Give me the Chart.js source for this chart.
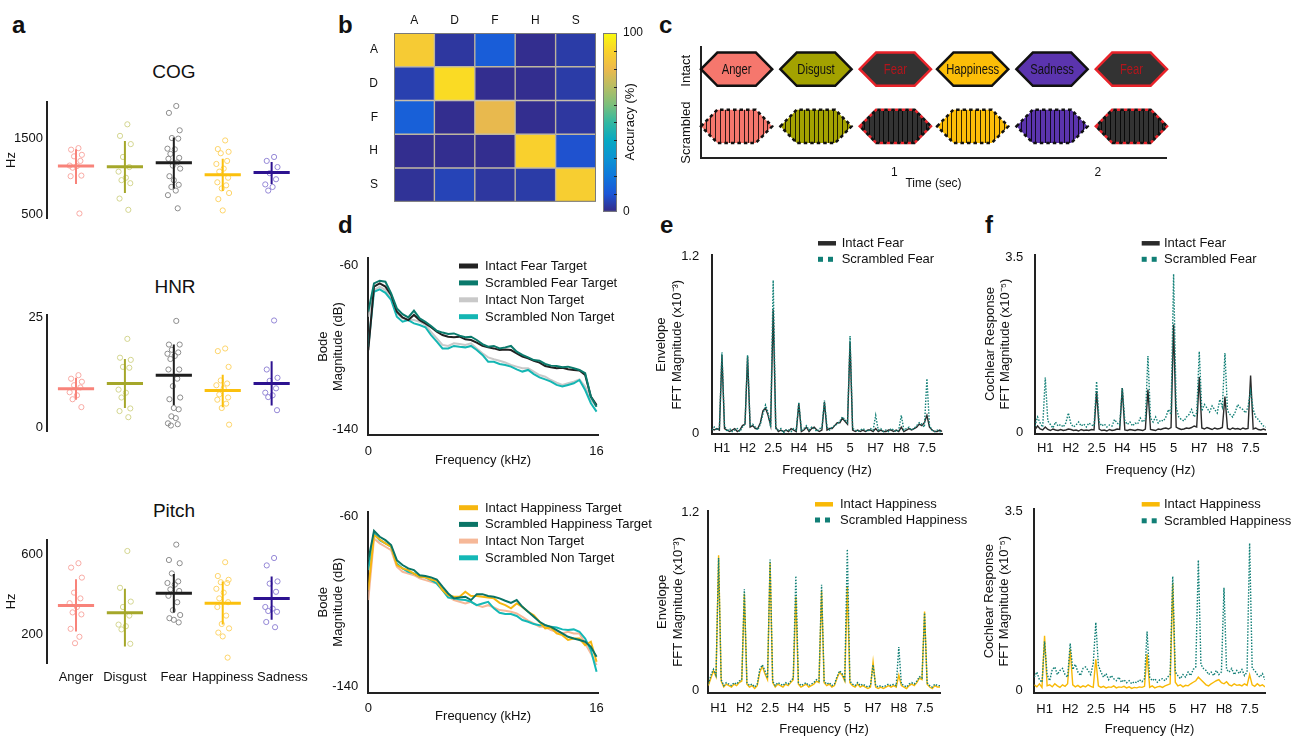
<!DOCTYPE html>
<html>
<head>
<meta charset="utf-8">
<script src="https://cdn.jsdelivr.net/npm/chart.js@4.4.0/dist/chart.umd.min.js"></script>
<style>
  html, body { margin: 0; padding: 0; background: #fff; }
  #fig { position: relative; width: 1304px; height: 737px; overflow: hidden; font-family: 'Liberation Sans', Arial, sans-serif; color: #111; }
  #fig canvas { position: absolute; }
  .lbl { position: absolute; font-weight: bold; font-size: 24px; line-height: 24px; }
  .ttl { position: absolute; width: 100px; text-align: center; font-size: 19px; line-height: 19px; }
</style>
</head>
<body>
<div id="fig">
  <div class="lbl" style="left:12px;top:13px">a</div>
  <div class="lbl" style="left:338px;top:13px">b</div>
  <div class="lbl" style="left:659px;top:13px">c</div>
  <div class="lbl" style="left:338px;top:213px">d</div>
  <div class="lbl" style="left:660px;top:213px">e</div>
  <div class="lbl" style="left:985px;top:213px">f</div>
  <div class="ttl" style="left:124px;top:62px">COG</div>
  <div class="ttl" style="left:125px;top:277px">HNR</div>
  <div class="ttl" style="left:124px;top:501px">Pitch</div>
</div>
<script>
// ---------- panel a: acoustic features per emotion ----------
const emotions = ['Anger', 'Disgust', 'Fear', 'Happiness', 'Sadness'];
const crossColors = ['#f8837a', '#a5a72a', '#1e1e1e', '#fbc00d', '#2d1290'];
const dotColors = ['#f8aaa4', '#d3d58f', '#8c8c8c', '#fdd46a', '#9487d6'];

const cogMean = [1135, 1126, 1179, 1022, 1050];
const cogLow = [900, 781, 841, 809, 901];
const cogHigh = [1355, 1464, 1512, 1231, 1190];
const cogPoints = [
  [1371, 1351, 1283, 1263, 1203, 1142, 1135, 1114, 1010, 1002, 512],
  [1684, 1532, 1424, 1255, 1122, 1062, 982, 950, 910, 708, 560],
  [1925, 1834, 1605, 1504, 1496, 1364, 1355, 1295, 1243, 1231, 1183, 1142, 1102, 1002, 950, 889, 861, 813, 753, 580],
  [1472, 1359, 1323, 1304, 1203, 1163, 1102, 1062, 982, 922, 882, 841, 781, 701, 552],
  [1255, 1203, 1122, 1042, 962, 894, 861, 813]
];

const hnrMean = [8.8, 10.0, 11.9, 8.4, 10.0];
const hnrLow = [6.3, 4.4, 5.1, 4.6, 5.0];
const hnrHigh = [11.3, 15.6, 18.9, 12.0, 15.1];
const hnrPoints = [
  [11.9, 11.1, 10.4, 9.6, 9.1, 8.0, 7.3, 6.4, 4.6],
  [20.2, 15.9, 15.4, 13.8, 13.6, 8.6, 7.9, 6.8, 4.3, 3.7, 2.3],
  [24.3, 18.9, 18.9, 17.7, 17.1, 16.8, 16.3, 15.6, 13.2, 13.2, 11.1, 9.4, 6.8, 6.4, 4.4, 4.1, 2.5, 2.1, 0.9, 0.7, 0.4],
  [18.0, 17.4, 13.8, 10.7, 10.0, 9.6, 8.9, 7.5, 6.8, 6.3, 5.4, 4.4, 0.6],
  [24.4, 13.2, 11.3, 10.6, 8.9, 7.9, 7.3, 6.9, 3.9]
];

const pitchMean = [347, 310, 408, 358, 382];
const pitchLow = [216, 142, 312, 251, 275];
const pitchHigh = [478, 430, 504, 467, 491];
const pitchPoints = [
  [558, 536, 486, 411, 382, 358, 339, 312, 302, 230, 190, 158],
  [619, 435, 366, 339, 296, 251, 243, 227, 155],
  [651, 574, 558, 507, 467, 459, 451, 427, 419, 395, 363, 323, 299, 283, 275, 262],
  [563, 494, 475, 463, 459, 430, 411, 382, 363, 339, 296, 254, 232, 211, 192, 86],
  [584, 547, 467, 456, 415, 339, 331, 319, 315, 264, 238]
];

// ---------- panel b: confusion matrix (%) ----------
const matrixLabels = ['A', 'D', 'F', 'H', 'S'];
const accuracy = [
  [87, 3, 12, 1, 4],
  [5, 92, 1, 1, 4],
  [13, 1, 79, 1, 3],
  [1, 1, 1, 89, 9],
  [2, 6, 3, 4, 88]
];

// ---------- panel c: stimulus sequence ----------
const stimLabels = ['Anger', 'Disgust', 'Fear', 'Happiness', 'Sadness', 'Fear'];
const stimColors = ['#f6776d', '#a3a200', '#333333', '#fcbe08', '#5b34ae', '#333333'];
const stimOnsets = [0.05, 0.44, 0.83, 1.21, 1.60, 1.99];
const stimDuration = 0.35;
const rowNames = ['Intact', 'Scrambled'];

// ---------- panel d: Bode magnitude (dB) ----------
const dFreqKHz = [0, 0.4, 0.8, 1.2, 1.6, 2, 2.4, 2.8, 3.2, 3.6, 4, 4.4, 4.8, 5.2, 5.6, 6, 6.4, 6.8, 7.2, 7.6,
  8, 8.4, 8.8, 9.2, 9.6, 10, 10.4, 10.8, 11.2, 11.6, 12, 12.4, 12.8, 13.2, 13.6, 14, 14.4, 14.8, 15.2, 15.6, 16];
const bodeFearIntact = [-101.4, -70.5, -68.9, -70.5, -74.6, -82.7, -85.5, -86.8, -84.3, -86.8, -88.4, -90.3, -92.5, -94.1,
  -94.9, -95.2, -94.9, -96.2, -96.5, -97.8, -99.4, -100.1, -100.6, -101.4, -101.1, -101.4, -103.0, -104.6, -105.4, -106.6,
  -107.5, -109.2, -109.8, -110.3, -110.0, -110.8, -111.1, -111.4, -113.6, -124.1, -128.2];
const bodeFearScrambled = [-82.7, -68.9, -67.6, -68.1, -73.8, -81.1, -83.9, -85.5, -82.2, -86.0, -87.6, -89.7, -92.0, -92.9,
  -93.6, -93.3, -94.4, -95.2, -94.9, -96.5, -98.5, -99.8, -99.4, -100.6, -100.1, -99.4, -102.2, -103.8, -105.0, -106.3,
  -106.6, -108.2, -109.0, -109.2, -109.8, -109.5, -110.3, -111.1, -112.7, -124.1, -129.0];
const bodeFearNonIntact = [-85.2, -72.2, -70.5, -72.2, -76.2, -83.5, -86.0, -86.5, -86.8, -87.6, -89.2, -92.5, -95.7, -98.9,
  -99.4, -98.1, -98.5, -98.9, -98.1, -100.6, -103.0, -105.0, -105.9, -106.6, -107.5, -108.7, -109.5, -110.3, -110.3, -111.9,
  -113.6, -114.4, -116.0, -117.3, -118.4, -117.6, -116.8, -115.7, -119.2, -125.7, -129.0];
const bodeFearNonScrambled = [-99.8, -73.0, -71.8, -73.5, -77.0, -85.2, -87.6, -86.8, -88.4, -89.2, -90.3, -94.1, -97.3, -100.6,
  -100.6, -99.4, -99.8, -100.1, -99.4, -101.4, -103.8, -107.1, -107.1, -108.2, -108.7, -109.5, -110.8, -111.9, -111.1, -113.1,
  -114.7, -115.7, -116.8, -118.4, -119.2, -118.4, -117.6, -116.0, -120.9, -127.3, -131.4];

const bodeHappyIntact = [-94.5, -68.6, -70.7, -72.5, -74.1, -82.7, -84.3, -85.1, -86.7, -88.2, -88.5, -89.5, -90.1, -94.5,
  -96.9, -97.6, -97.6, -95.3, -97.3, -97.3, -97.6, -98.0, -98.4, -100.5, -101.6, -103.1, -100.8, -102.4, -104.7, -106.3,
  -109.4, -112.5, -112.1, -114.9, -115.7, -118.0, -117.3, -117.3, -120.4, -118.8, -128.2];
const bodeHappyScrambled = [-80.4, -66.6, -69.4, -71.0, -73.3, -80.4, -82.7, -84.3, -85.1, -87.5, -87.9, -88.5, -89.5, -92.9,
  -96.1, -98.4, -98.0, -97.6, -99.2, -96.4, -96.4, -97.3, -97.6, -98.4, -99.5, -100.5, -99.2, -102.4, -104.7, -107.1,
  -109.4, -111.0, -111.8, -113.3, -114.9, -116.5, -117.3, -118.0, -118.8, -121.2, -125.9];
const bodeHappyNonIntact = [-99.2, -70.2, -72.5, -74.1, -75.7, -83.5, -85.9, -86.7, -87.5, -89.0, -89.8, -90.6, -91.4, -94.5,
  -97.6, -99.2, -100.0, -100.8, -100.0, -101.6, -102.4, -101.6, -102.7, -103.9, -104.2, -104.7, -105.5, -107.1, -108.9, -110.2,
  -111.8, -111.8, -113.3, -114.1, -114.9, -114.1, -114.9, -114.9, -119.6, -124.3, -129.8];
const bodeHappyNonScrambled = [-85.1, -67.8, -71.0, -72.5, -74.1, -82.0, -84.3, -85.9, -86.7, -88.2, -88.5, -89.8, -91.4, -94.5,
  -98.0, -98.4, -98.9, -99.2, -100.0, -101.6, -100.8, -100.0, -103.1, -105.2, -105.8, -105.8, -106.7, -108.6, -109.4, -110.5,
  -111.0, -111.0, -111.8, -112.1, -113.0, -113.3, -113.0, -114.1, -117.3, -122.7, -132.9];

// ---------- panels e, f: FFT spectra, bins of 1/12 Hz from 0.5 to 8 Hz ----------
const fftFreqHz = Array.from({length: 91}, (_, i) => (i + 6) / 12);
const harmonicHz = [10 / 12, 20 / 12, 2.5, 40 / 12, 50 / 12, 5, 70 / 12, 80 / 12, 7.5];
const harmonicLabels = ['H1', 'H2', '2.5', 'H4', 'H5', '5', 'H7', 'H8', '7.5'];

const envFearIntact = [
  0.03, 0.02, 0.03, 0.02, 0.53, 0.03, 0.02, 0.01, 0.02, 0.03,
  0.01, 0.02, 0.05, 0.06, 0.52, 0.04, 0.05, 0.03, 0.03, 0.07,
  0.15, 0.17, 0.12, 0.05, 0.84, 0.04, 0.01, 0.02, 0.01, 0.02,
  0.01, 0.03, 0.02, 0.01, 0.20, 0.01, 0.02, 0.04, 0.01, 0.03,
  0.04, 0.02, 0.01, 0.02, 0.21, 0.02, 0.03, 0.03, 0.05, 0.07,
  0.07, 0.10, 0.08, 0.06, 0.62, 0.02, 0.01, 0.02, 0.01, 0.02,
  0.01, 0.02, 0.02, 0.01, 0.03, 0.01, 0.02, 0.01, 0.01, 0.02,
  0.02, 0.01, 0.02, 0.01, 0.04, 0.01, 0.02, 0.03, 0.02, 0.03,
  0.04, 0.06, 0.05, 0.07, 0.12, 0.04, 0.02, 0.01, 0.01, 0.02,
  0.01];
const envFearScrambled = [
  0.02, 0.04, 0.02, 0.03, 0.55, 0.05, 0.01, 0.03, 0.01, 0.02,
  0.03, 0.01, 0.04, 0.06, 0.53, 0.05, 0.06, 0.04, 0.02, 0.06,
  0.13, 0.19, 0.14, 0.04, 1.04, 0.03, 0.02, 0.03, 0.00, 0.02,
  0.02, 0.01, 0.03, 0.02, 0.21, 0.02, 0.03, 0.05, 0.02, 0.04,
  0.03, 0.01, 0.03, 0.03, 0.22, 0.04, 0.02, 0.04, 0.05, 0.06,
  0.08, 0.11, 0.09, 0.07, 0.66, 0.03, 0.02, 0.01, 0.02, 0.03,
  0.02, 0.01, 0.03, 0.02, 0.12, 0.02, 0.03, 0.01, 0.02, 0.01,
  0.03, 0.02, 0.01, 0.02, 0.12, 0.02, 0.03, 0.04, 0.02, 0.03,
  0.05, 0.07, 0.06, 0.04, 0.37, 0.05, 0.02, 0.01, 0.02, 0.01,
  0.01];
const envHappyIntact = [
  0.03, 0.08, 0.13, 0.09, 0.91, 0.06, 0.02, 0.04, 0.03, 0.02,
  0.04, 0.03, 0.05, 0.06, 0.65, 0.04, 0.02, 0.03, 0.01, 0.03,
  0.12, 0.16, 0.11, 0.07, 0.86, 0.05, 0.02, 0.04, 0.03, 0.02,
  0.04, 0.03, 0.05, 0.07, 0.63, 0.04, 0.02, 0.03, 0.04, 0.02,
  0.03, 0.04, 0.06, 0.05, 0.67, 0.05, 0.03, 0.04, 0.02, 0.03,
  0.08, 0.12, 0.10, 0.06, 0.70, 0.05, 0.03, 0.02, 0.04, 0.02,
  0.03, 0.02, 0.01, 0.02, 0.19, 0.02, 0.01, 0.02, 0.01, 0.02,
  0.03, 0.02, 0.03, 0.02, 0.10, 0.03, 0.02, 0.01, 0.03, 0.04,
  0.03, 0.05, 0.08, 0.07, 0.53, 0.04, 0.02, 0.01, 0.03, 0.02,
  0.02];
const envHappyScrambled = [
  0.04, 0.10, 0.14, 0.10, 0.89, 0.07, 0.03, 0.05, 0.04, 0.03,
  0.05, 0.04, 0.06, 0.07, 0.68, 0.05, 0.03, 0.04, 0.02, 0.04,
  0.14, 0.17, 0.13, 0.08, 0.88, 0.06, 0.03, 0.05, 0.04, 0.03,
  0.05, 0.04, 0.06, 0.08, 0.77, 0.05, 0.03, 0.04, 0.05, 0.03,
  0.04, 0.05, 0.07, 0.06, 0.71, 0.06, 0.04, 0.05, 0.03, 0.04,
  0.09, 0.13, 0.11, 0.07, 0.95, 0.06, 0.04, 0.03, 0.05, 0.03,
  0.04, 0.03, 0.02, 0.03, 0.17, 0.03, 0.02, 0.03, 0.02, 0.03,
  0.04, 0.03, 0.04, 0.03, 0.29, 0.04, 0.03, 0.02, 0.04, 0.05,
  0.04, 0.06, 0.09, 0.08, 0.52, 0.05, 0.03, 0.02, 0.04, 0.03,
  0.03];

const cochFearIntact = [
  0.05, 0.12, 0.06, 0.04, 0.10, 0.05, 0.03, 0.06, 0.04, 0.03,
  0.05, 0.03, 0.04, 0.06, 0.05, 0.03, 0.04, 0.02, 0.05, 0.03,
  0.04, 0.03, 0.05, 0.04, 0.82, 0.06, 0.03, 0.04, 0.02, 0.05,
  0.03, 0.04, 0.06, 0.05, 0.88, 0.04, 0.03, 0.05, 0.04, 0.03,
  0.05, 0.04, 0.03, 0.06, 0.85, 0.05, 0.04, 0.03, 0.06, 0.05,
  0.07, 0.08, 0.06, 0.09, 2.15, 0.10, 0.07, 0.05, 0.06, 0.08,
  0.07, 0.09, 0.12, 0.10, 1.10, 0.08, 0.06, 0.09, 0.07, 0.05,
  0.08, 0.06, 0.07, 0.09, 0.71, 0.07, 0.05, 0.08, 0.06, 0.07,
  0.05, 0.08, 0.06, 0.07, 1.13, 0.06, 0.08, 0.05, 0.04, 0.06,
  0.04];
const cochFearScrambled = [
  0.12, 0.30, 0.18, 0.10, 1.09, 0.22, 0.15, 0.08, 0.20, 0.12,
  0.15, 0.10, 0.18, 0.38, 0.16, 0.10, 0.14, 0.20, 0.12, 0.16,
  0.10, 0.18, 0.14, 0.12, 1.01, 0.20, 0.12, 0.16, 0.10, 0.14,
  0.12, 0.25, 0.18, 0.14, 0.88, 0.22, 0.15, 0.20, 0.12, 0.18,
  0.16, 0.28, 0.20, 0.25, 1.52, 0.28, 0.20, 0.30, 0.18, 0.24,
  0.22, 0.30, 0.45, 0.35, 3.16, 0.50, 0.30, 0.25, 0.22, 0.30,
  0.35, 0.45, 0.30, 0.38, 1.61, 0.42, 0.55, 0.48, 0.40, 0.52,
  0.45, 0.38, 0.65, 0.50, 1.58, 0.42, 0.35, 0.30, 0.40, 0.55,
  0.48, 0.45, 0.38, 0.50, 0.82, 0.45, 0.30, 0.25, 0.18, 0.12,
  0.10];
const cochHappyIntact = [
  0.10, 0.06, 0.12, 0.05, 1.06, 0.08, 0.10, 0.06, 0.12, 0.08,
  0.05, 0.10, 0.07, 0.12, 0.80, 0.10, 0.06, 0.09, 0.05, 0.08,
  0.06, 0.10, 0.07, 0.05, 0.60, 0.08, 0.05, 0.07, 0.04, 0.06,
  0.05, 0.08, 0.04, 0.06, 0.05, 0.07, 0.04, 0.06, 0.03, 0.05,
  0.04, 0.06, 0.05, 0.07, 0.70, 0.05, 0.08, 0.04, 0.06, 0.07,
  0.05, 0.08, 0.10, 0.12, 2.09, 0.15, 0.08, 0.10, 0.06, 0.09,
  0.08, 0.12, 0.15, 0.18, 0.25, 0.20, 0.15, 0.10, 0.08, 0.12,
  0.15, 0.18, 0.20, 0.14, 0.12, 0.16, 0.10, 0.08, 0.12, 0.09,
  0.10, 0.08, 0.12, 0.09, 0.30, 0.10, 0.07, 0.12, 0.08, 0.10,
  0.06];
const cochHappyScrambled = [
  0.25, 0.35, 0.20, 0.15, 0.95, 0.30, 0.18, 0.40, 0.45, 0.30,
  0.38, 0.42, 0.30, 0.25, 0.91, 0.40, 0.50, 0.35, 0.28, 0.42,
  0.45, 0.38, 0.30, 0.52, 1.32, 0.48, 0.35, 0.25, 0.32, 0.20,
  0.28, 0.22, 0.18, 0.25, 0.15, 0.20, 0.14, 0.18, 0.12, 0.16,
  0.14, 0.20, 0.16, 0.22, 1.14, 0.25, 0.18, 0.22, 0.15, 0.20,
  0.22, 0.18, 0.25, 0.30, 2.22, 0.35, 0.28, 0.22, 0.30, 0.25,
  0.35, 0.28, 0.40, 0.45, 2.54, 0.50, 0.42, 0.38, 0.30, 0.35,
  0.28, 0.38, 0.30, 0.35, 2.00, 0.40, 0.35, 0.42, 0.30, 0.38,
  0.32, 0.40, 0.28, 0.35, 2.87, 0.42, 0.38, 0.30, 0.25, 0.32,
  0.20];

// ---------- helpers ----------
Chart.defaults.font.family = "'Liberation Sans', Arial, sans-serif";
Chart.defaults.color = '#111';

const jitter = [0.05, -0.1, 0.12, -0.04, 0.09, -0.13, 0.02, -0.07, 0.11, -0.11, 0.07, -0.02, 0.13, -0.09, 0.0, 0.1, -0.05, 0.04, -0.12, 0.08, -0.06];

function place(left, top, width, height) {
  const c = document.createElement('canvas');
  c.width = width;
  c.height = height;
  Object.assign(c.style, {left: left + 'px', top: top + 'px', width: width + 'px', height: height + 'px'});
  document.getElementById('fig').appendChild(c);
  return c;
}
const fixWidth = w => s => { s.width = w; };
const fixHeight = h => s => { s.height = h; };
const setTicks = vals => s => { s.ticks = vals.map(v => ({value: v})); };
const axisLine = {display: true, color: '#222', width: 2};
const noGrid = {display: false, drawTicks: false};
const baseOpts = {responsive: false, animation: false, events: []};
const noPlugins = {legend: {display: false}, tooltip: {enabled: false}};

// legend drawn inside the plot corner
const insetLegend = {
  id: 'insetLegend',
  afterDraw(chart) {
    const o = chart.options.plugins.insetLegend;
    if (!o) return;
    const ctx = chart.ctx;
    chart.data.datasets.forEach((ds, i) => {
      const yy = o.y + i * o.rowH;
      ctx.save();
      ctx.strokeStyle = ds.borderColor;
      const dashed = ds.borderDash && ds.borderDash.length;
      ctx.lineWidth = dashed ? 5 : o.lineW;
      ctx.setLineDash(dashed ? [5, 5] : []);
      ctx.beginPath();
      ctx.moveTo(o.x, yy);
      ctx.lineTo(o.x + (dashed ? 15 : o.sampleW), yy);
      ctx.stroke();
      ctx.fillStyle = '#111';
      ctx.font = "13px 'Liberation Sans', Arial, sans-serif";
      ctx.textBaseline = 'middle';
      ctx.fillText(ds.label, o.textX, yy + 0.5);
      ctx.restore();
    });
  }
};

// ---------- panel a ----------
function stripChart(o) {
  const datasets = [];
  emotions.forEach((name, c) => {
    datasets.push({
      data: o.points[c].map((v, i) => ({x: c + jitter[i % jitter.length], y: v})),
      pointRadius: 2.6, pointBorderWidth: 1, pointBorderColor: dotColors[c],
      pointBackgroundColor: 'rgba(0,0,0,0)', showLine: false, order: 2
    });
    datasets.push({
      data: [{x: c - 0.37, y: o.mean[c]}, {x: c + 0.37, y: o.mean[c]}],
      showLine: true, borderColor: crossColors[c], borderWidth: 3, pointRadius: 0, order: 1
    });
    datasets.push({
      data: [{x: c, y: o.low[c]}, {x: c, y: o.high[c]}],
      showLine: true, borderColor: crossColors[c], borderWidth: 2, pointRadius: 0, order: 1
    });
  });
  return new Chart(place(0, o.top, o.width, o.height), {
    type: 'scatter',
    data: {datasets},
    options: {
      ...baseOpts,
      layout: {autoPadding: false, padding: {left: 0, top: 7, right: o.width - 300, bottom: o.padBottom}},
      plugins: noPlugins,
      scales: {
        x: {
          type: 'linear', min: -0.593, max: 4.58, display: o.showCats,
          afterBuildTicks: setTicks([0, 1, 2, 3, 4.22]), afterFit: fixHeight(o.showCats ? 30 : 0),
          ticks: {callback: (v, i) => emotions[i], font: {size: 13}, padding: 6.5, maxRotation: 0, autoSkip: false},
          grid: noGrid, border: {display: false}
        },
        y: {
          type: 'linear', min: o.yMin, max: o.yMax,
          afterBuildTicks: setTicks(o.yTicks), afterFit: fixWidth(47),
          ticks: {callback: v => String(v), font: {size: 13}, padding: 4},
          grid: noGrid, border: axisLine,
          title: {display: !!o.yTitle, text: o.yTitle, font: {size: 13}, padding: {top: 4, bottom: 0}}
        }
      }
    }
  });
}

stripChart({top: 90, width: 310, height: 140, padBottom: 6, yMin: 450, yMax: 1980, yTicks: [500, 1500],
  points: cogPoints, mean: cogMean, low: cogLow, high: cogHigh, yTitle: 'Hz', showCats: false});
stripChart({top: 303, width: 310, height: 140, padBottom: 9, yMin: -0.9, yMax: 25.7, yTicks: [0, 25],
  points: hnrPoints, mean: hnrMean, low: hnrLow, high: hnrHigh, yTitle: '', showCats: false});
stripChart({top: 528, width: 320, height: 165, padBottom: 0, yMin: 59, yMax: 675, yTicks: [200, 600],
  points: pitchPoints, mean: pitchMean, low: pitchLow, high: pitchHigh, yTitle: 'Hz', showCats: true});

// ---------- panel b ----------
const parulaStops = [[53, 42, 135], [28, 86, 215], [15, 119, 219], [12, 147, 210], [7, 169, 194], [51, 184, 161],
  [124, 191, 123], [183, 189, 100], [237, 185, 76], [250, 211, 42], [249, 251, 14]];
function parula(t) {
  const n = parulaStops.length - 1;
  const p = Math.min(Math.max(t, 0), 1) * n;
  const i = Math.min(Math.floor(p), n - 1), f = p - i;
  const a = parulaStops[i], b = parulaStops[i + 1];
  return 'rgb(' + a.map((v, k) => Math.round(v + (b[k] - v) * f)).join(',') + ')';
}
const frame = {
  id: 'frame',
  afterDatasetsDraw(chart) {
    const {ctx, chartArea: a} = chart;
    ctx.save();
    ctx.strokeStyle = '#7a7a7a';
    ctx.lineWidth = 1;
    ctx.strokeRect(a.left + 0.5, a.top + 0.5, a.right - a.left - 1, a.bottom - a.top - 1);
    ctx.restore();
  }
};

new Chart(place(335, 0, 265, 225), {
  type: 'bar',
  data: {
    labels: matrixLabels,
    datasets: accuracy.map((row, r) => ({
      data: row.map(() => [r - 0.5, r + 0.5]),
      backgroundColor: row.map(v => parula(v / 100)),
      borderColor: 'rgba(150,135,95,0.55)', borderWidth: 1, borderSkipped: false,
      grouped: false, barPercentage: 1, categoryPercentage: 1
    }))
  },
  options: {
    ...baseOpts,
    layout: {autoPadding: false, padding: {left: 0, top: 0, right: 4, bottom: 9}},
    plugins: noPlugins,
    scales: {
      x: {position: 'top', afterFit: fixHeight(33), ticks: {font: {size: 12}, padding: 5},
        grid: noGrid, border: {display: false}},
      y: {type: 'linear', min: -0.5, max: 4.5, reverse: true, afterBuildTicks: setTicks([0, 1, 2, 3, 4]),
        afterFit: fixWidth(59), ticks: {callback: v => matrixLabels[v], font: {size: 12}, padding: 16},
        grid: noGrid, border: {display: false}}
    }
  },
  plugins: [frame]
});

const colorbarDecor = {
  id: 'colorbarDecor',
  afterDatasetsDraw(chart) {
    const {ctx, chartArea: a, scales: {y}} = chart;
    ctx.save();
    ctx.strokeStyle = '#222';
    ctx.lineWidth = 1;
    for (let v = 10; v < 100; v += 10) {
      const py = Math.round(y.getPixelForValue(v)) + 0.5;
      ctx.beginPath();
      ctx.moveTo(a.right - 3, py);
      ctx.lineTo(a.right, py);
      ctx.stroke();
    }
    ctx.translate(32, (a.top + a.bottom) / 2 - 0.5);
    ctx.rotate(-Math.PI / 2);
    ctx.fillStyle = '#111';
    ctx.font = "13px 'Liberation Sans', Arial, sans-serif";
    ctx.textAlign = 'center';
    ctx.textBaseline = 'middle';
    ctx.fillText('Accuracy (%)', 0, 0);
    ctx.restore();
  }
};

new Chart(place(598, 0, 60, 225), {
  type: 'bar',
  data: {
    labels: [''],
    datasets: [{
      data: [[0, 100]], barPercentage: 1, categoryPercentage: 1, borderWidth: 0,
      backgroundColor: c => {
        const a = c.chart.chartArea;
        if (!a) return parula(0.5);
        const g = c.chart.ctx.createLinearGradient(0, a.bottom, 0, a.top);
        parulaStops.forEach((col, i) => g.addColorStop(i / (parulaStops.length - 1), 'rgb(' + col.join(',') + ')'));
        return g;
      }
    }]
  },
  options: {
    ...baseOpts,
    layout: {autoPadding: false, padding: {left: 5, top: 33, right: 0, bottom: 9}},
    plugins: noPlugins,
    scales: {
      x: {display: false},
      y: {position: 'right', min: 0, max: 100, afterBuildTicks: setTicks([0, 100]), afterFit: fixWidth(41),
        ticks: {callback: v => String(v), font: {size: 12}, padding: 6}, grid: noGrid, border: {display: false}}
    }
  },
  plugins: [frame, colorbarDecor]
});

// ---------- panel c ----------
const intactRowY = 5.6, scrambledRowY = 2.0, hexHalf = 1.05;
const hexPlugin = {
  id: 'hexes',
  afterDatasetsDraw(chart) {
    const {ctx, chartArea: area, scales: {x, y}} = chart;
    const rows = [{yc: intactRowY, scrambled: false}, {yc: scrambledRowY, scrambled: true}];
    stimOnsets.forEach((t0, i) => {
      const x0 = x.getPixelForValue(t0), x1 = x.getPixelForValue(t0 + stimDuration);
      const fear = stimLabels[i] === 'Fear';
      rows.forEach(row => {
        const yt = y.getPixelForValue(row.yc + hexHalf), yb = y.getPixelForValue(row.yc - hexHalf);
        const ym = (yt + yb) / 2, ins = (x1 - x0) * 0.23;
        const path = () => {
          ctx.beginPath();
          ctx.moveTo(x0, ym); ctx.lineTo(x0 + ins, yt); ctx.lineTo(x1 - ins, yt);
          ctx.lineTo(x1, ym); ctx.lineTo(x1 - ins, yb); ctx.lineTo(x0 + ins, yb);
          ctx.closePath();
        };
        ctx.save();
        path();
        ctx.fillStyle = stimColors[i];
        ctx.fill();
        ctx.lineWidth = 2.5;
        ctx.lineJoin = 'miter';
        if (row.scrambled) {
          ctx.save();
          path();
          ctx.clip();
          ctx.strokeStyle = 'rgba(0,0,0,0.8)';
          ctx.lineWidth = 1;
          const n = 15;
          for (let k = 1; k < n; k++) {
            const xx = Math.round(x0 + (x1 - x0) * k / n) + 0.5;
            ctx.beginPath(); ctx.moveTo(xx, yt); ctx.lineTo(xx, yb); ctx.stroke();
          }
          ctx.restore();
          if (fear) {
            ctx.setLineDash([3.5, 3.5]);
            path(); ctx.strokeStyle = '#e8232a'; ctx.stroke();
            ctx.lineDashOffset = 3.5;
          } else {
            ctx.setLineDash([3.5, 3]);
          }
          path(); ctx.strokeStyle = '#111'; ctx.stroke();
        } else {
          path();
          ctx.strokeStyle = fear ? '#e8232a' : '#111';
          ctx.stroke();
          ctx.fillStyle = fear ? '#b3151c' : '#111';
          ctx.font = "14px 'Liberation Sans', Arial, sans-serif";
          ctx.textAlign = 'center';
          ctx.textBaseline = 'middle';
          ctx.translate((x0 + x1) / 2, ym + 0.5);
          ctx.scale(0.8, 1);
          ctx.fillText(stimLabels[i], 0, 0);
        }
        ctx.restore();
      });
    });
    // row labels
    [[rowNames[0], 5.5], [rowNames[1], 1.6]].forEach(([txt, v]) => {
      ctx.save();
      ctx.translate(area.left - 15, y.getPixelForValue(v));
      ctx.rotate(-Math.PI / 2);
      ctx.fillStyle = '#111';
      ctx.font = "13px 'Liberation Sans', Arial, sans-serif";
      ctx.textAlign = 'center';
      ctx.textBaseline = 'middle';
      ctx.fillText(txt, 0, 0);
      ctx.restore();
    });
  }
};

new Chart(place(660, 30, 644, 170), {
  type: 'scatter',
  data: {datasets: [{data: []}]},
  options: {
    ...baseOpts,
    layout: {autoPadding: false, padding: {left: 0, top: 17, right: 138, bottom: 0}},
    plugins: noPlugins,
    scales: {
      x: {type: 'linear', min: 0.05, max: 2.335, afterBuildTicks: setTicks([1, 2]), afterFit: fixHeight(42),
        ticks: {callback: v => String(v), font: {size: 12}, padding: 7.5}, grid: noGrid, border: axisLine,
        title: {display: true, text: 'Time (sec)', font: {size: 12}, padding: {top: 0, bottom: 9.5}}},
      y: {type: 'linear', min: 0, max: 7, afterFit: fixWidth(41), ticks: {display: false},
        grid: noGrid, border: axisLine}
    }
  },
  plugins: [hexPlugin]
});

// ---------- panels d, e, f ----------
function spectrumChart(o) {
  return new Chart(place(o.left, o.top, o.width, o.height), {
    type: 'scatter',
    data: {
      datasets: o.series.map(s => ({
        label: s.label,
        data: o.xs.map((x, i) => ({x, y: s.values[i]})),
        showLine: true, pointRadius: 0, borderColor: s.color, borderWidth: s.width,
        borderDash: s.dash || [], order: s.order, tension: 0
      }))
    },
    options: {
      ...baseOpts,
      layout: {autoPadding: false, padding: {left: 0, top: o.padTop, right: o.padRight, bottom: 0}},
      plugins: {...noPlugins, insetLegend: o.legend},
      scales: {
        x: {type: 'linear', min: o.xMin, max: o.xMax, afterBuildTicks: setTicks(o.xTicks), afterFit: fixHeight(o.xAxisH),
          ticks: {callback: o.xLabel, font: {size: 13}, padding: o.xTickPad, maxRotation: 0, autoSkip: false},
          grid: noGrid, border: axisLine,
          title: {display: true, text: o.xTitle, font: {size: 13}, padding: {top: 0, bottom: o.xTitlePad}}},
        y: {type: 'linear', min: o.yMin, max: o.yMax, afterBuildTicks: setTicks(o.yTicks), afterFit: fixWidth(o.yAxisW),
          ticks: {callback: v => String(v), font: {size: 13}, padding: o.yTickPad},
          grid: noGrid, border: axisLine,
          title: {display: true, text: o.yTitle, font: {size: 13}, padding: {top: o.yTitlePad, bottom: 0}}}
      }
    },
    plugins: [insetLegend]
  });
}

const bodeCommon = {xs: dFreqKHz, xMin: 0, xMax: 16.1, xTicks: [0, 16], xLabel: v => String(v), xTitle: 'Frequency (kHz)',
  yTicks: [-140, -60], yTickPad: 10, yTitlePad: 5.2, yAxisW: 58.3, yTitle: ['Bode', 'Magnitude (dB)']};

spectrumChart({...bodeCommon, left: 310, top: 240, width: 330, height: 240, padTop: 18.3, padRight: 42,
  xAxisH: 45, xTickPad: 8.9, xTitlePad: 12.2, yMin: -142.8, yMax: -56.7,
  legend: {x: 149, y: 26, rowH: 16.9, sampleW: 19, lineW: 5, textX: 175},
  series: [
    {label: 'Intact Fear Target', values: bodeFearIntact, color: '#222222', width: 2, order: 1},
    {label: 'Scrambled Fear Target', values: bodeFearScrambled, color: '#0a7a6c', width: 2, order: 0},
    {label: 'Intact Non Target', values: bodeFearNonIntact, color: '#c9c9c9', width: 2, order: 3},
    {label: 'Scrambled Non Target', values: bodeFearNonScrambled, color: '#14b6b3', width: 2, order: 2}
  ]});

spectrumChart({...bodeCommon, left: 310, top: 490, width: 350, height: 247, padTop: 21.7, padRight: 62,
  xAxisH: 44.3, xTickPad: 7.8, xTitlePad: 13.2, yMin: -142.8, yMax: -57.6,
  legend: {x: 149, y: 17.7, rowH: 16.7, sampleW: 19, lineW: 5, textX: 175},
  series: [
    {label: 'Intact Happiness Target', values: bodeHappyIntact, color: '#f6b60f', width: 2, order: 1},
    {label: 'Scrambled Happiness Target', values: bodeHappyScrambled, color: '#0a7466', width: 2, order: 0},
    {label: 'Intact Non Target', values: bodeHappyNonIntact, color: '#f6b898', width: 2, order: 3},
    {label: 'Scrambled Non Target', values: bodeHappyNonScrambled, color: '#14b8b6', width: 2, order: 2}
  ]});

const fftCommon = {xs: fftFreqHz, xMin: 0.5, xMax: 8.0, xTicks: harmonicHz, xLabel: (v, i) => harmonicLabels[i],
  xTitle: 'Frequency (Hz)'};
const teal = '#117f76';

spectrumChart({...fftCommon, left: 640, top: 235, width: 310, height: 245, padTop: 17.7, padRight: 7.7,
  xAxisH: 46, xTickPad: 6.5, xTitlePad: 2.2, yMin: -0.007, yMax: 1.21, yTicks: [0, 1.2], yTickPad: 12.5,
  yTitlePad: 13.9, yAxisW: 71.7, yTitle: ['Envelope', 'FFT Magnitude (x10⁻³)'],
  legend: {x: 178, y: 8.3, rowH: 16, sampleW: 18, lineW: 4.5, textX: 201.7},
  series: [
    {label: 'Intact Fear', values: envFearIntact, color: '#2a2a2a', width: 1.4, order: 1},
    {label: 'Scrambled Fear', values: envFearScrambled, color: teal, width: 1.4, dash: [1.5, 1.5], order: 0}
  ]});

spectrumChart({...fftCommon, left: 640, top: 490, width: 330, height: 247, padTop: 20.7, padRight: 30,
  xAxisH: 44, xTickPad: 7.5, xTitlePad: 0.2, yMin: -0.02, yMax: 1.21, yTicks: [0, 1.2], yTickPad: 9,
  yTitlePad: 14.9, yAxisW: 68.3, yTitle: ['Envelope', 'FFT Magnitude (x10⁻³)'],
  legend: {x: 175, y: 14.3, rowH: 15.7, sampleW: 18, lineW: 4.5, textX: 200},
  series: [
    {label: 'Intact Happiness', values: envHappyIntact, color: '#f8b906', width: 1.4, order: 1},
    {label: 'Scrambled Happiness', values: envHappyScrambled, color: teal, width: 1.4, dash: [1.5, 1.5], order: 0}
  ]});

spectrumChart({...fftCommon, left: 970, top: 235, width: 334, height: 245, padTop: 14.3, padRight: 38,
  xAxisH: 46.5, xTickPad: 7, xTitlePad: 2.2, yMin: -0.03, yMax: 3.55, yTicks: [0, 3.5], yTickPad: 11.7,
  yTitlePad: 12.2, yAxisW: 65, yTitle: ['Cochlear Response', 'FFT Magnitude (x10⁻⁵)'],
  legend: {x: 171.7, y: 8.3, rowH: 16, sampleW: 18, lineW: 4.5, textX: 194},
  series: [
    {label: 'Intact Fear', values: cochFearIntact, color: '#2a2a2a', width: 1.4, order: 1},
    {label: 'Scrambled Fear', values: cochFearScrambled, color: teal, width: 1.4, dash: [1.5, 1.5], order: 0}
  ]});

spectrumChart({...fftCommon, left: 970, top: 490, width: 334, height: 247, padTop: 19.3, padRight: 39,
  xAxisH: 44, xTickPad: 8.2, xTitlePad: 0.2, yMin: -0.06, yMax: 3.53, yTicks: [0, 3.5], yTickPad: 11.6,
  yTitlePad: 11.5, yAxisW: 64.3, yTitle: ['Cochlear Response', 'FFT Magnitude (x10⁻⁵)'],
  legend: {x: 171.7, y: 14.3, rowH: 16.5, sampleW: 18, lineW: 4.5, textX: 194},
  series: [
    {label: 'Intact Happiness', values: cochHappyIntact, color: '#f8b906', width: 1.4, order: 1},
    {label: 'Scrambled Happiness', values: cochHappyScrambled, color: teal, width: 1.4, dash: [1.5, 1.5], order: 0}
  ]});
</script>
</body>
</html>
